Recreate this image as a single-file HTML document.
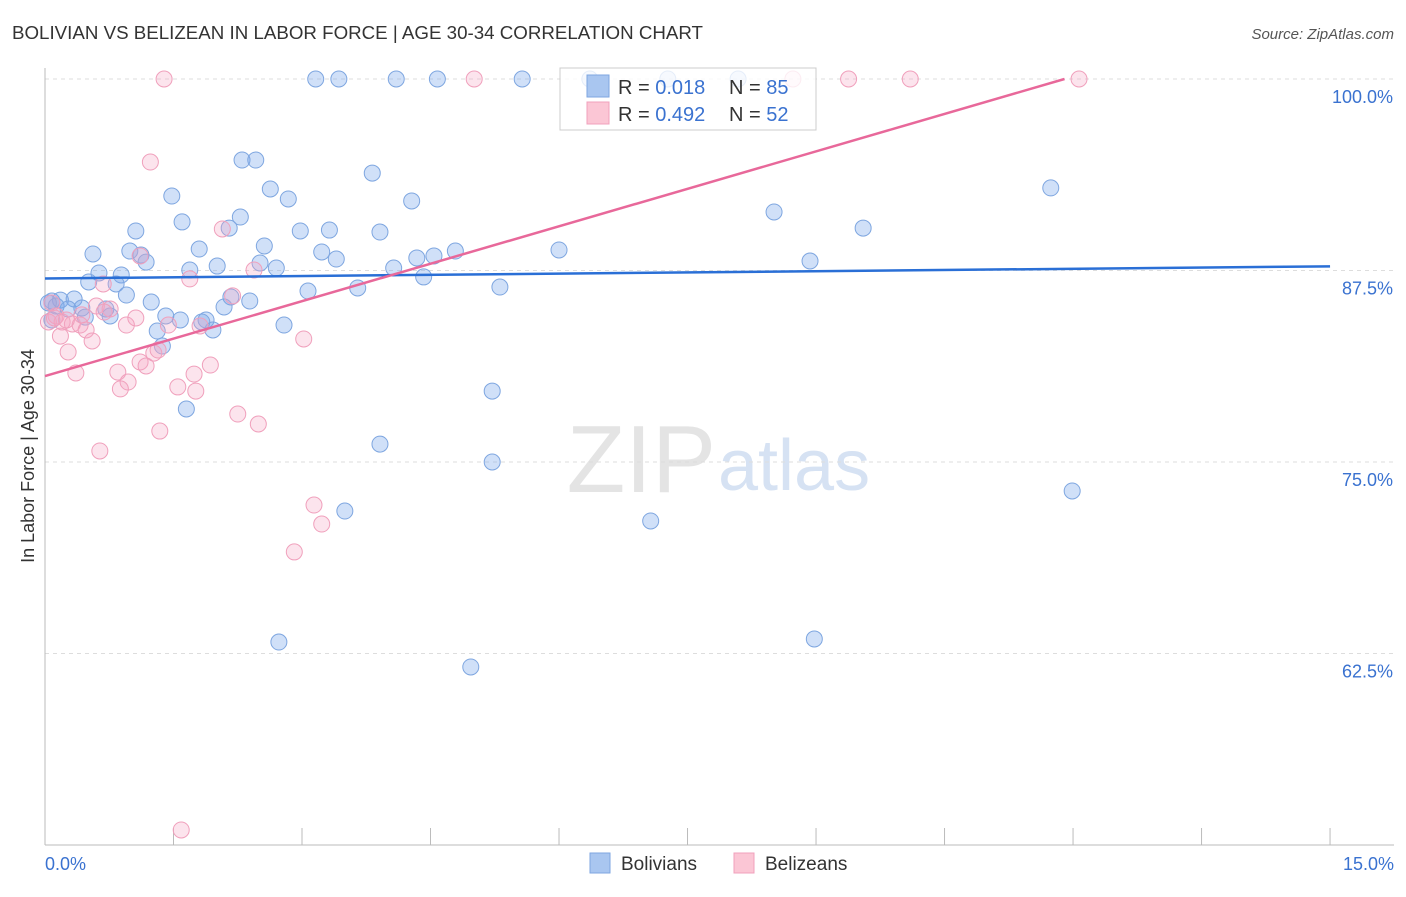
<!DOCTYPE html>
<html><head><meta charset="utf-8"><style>
body{margin:0;background:#fff;font-family:"Liberation Sans",sans-serif}
svg text{font-family:"Liberation Sans",sans-serif}
</style></head><body>
<svg id="chart" width="1406" height="892">
<text x="12" y="39" font-size="18" fill="#333" textLength="691" lengthAdjust="spacingAndGlyphs">BOLIVIAN VS BELIZEAN IN LABOR FORCE | AGE 30-34 CORRELATION CHART</text>
<text x="1394" y="39" font-size="15" fill="#555" font-style="italic" text-anchor="end">Source: ZipAtlas.com</text>
<text x="716" y="492" font-size="96" fill="#e4e4e4" text-anchor="end" font-family="Liberation Serif">ZIP</text>
<text x="718" y="490" font-size="72" fill="#d6e2f3">atlas</text>
<text transform="translate(34,456) rotate(-90)" font-size="18" fill="#333" text-anchor="middle">In Labor Force | Age 30-34</text>
<g id="grid"></g><g id="pts"></g><g id="lines"></g>
<g>
<rect x="560" y="68" width="256" height="62" fill="#fff" fill-opacity="0.8" stroke="#ccc"/>
<rect x="587" y="75" width="22" height="22" fill="#a9c6f0" stroke="#7ea6e0"/>
<rect x="587" y="102" width="22" height="22" fill="#fbc6d5" stroke="#f0a0bc"/>
<text x="618" y="94" font-size="20" fill="#333">R = <tspan fill="#3a72d0">0.018</tspan></text>
<text x="729" y="94" font-size="20" fill="#333">N = <tspan fill="#3a72d0">85</tspan></text>
<text x="618" y="121" font-size="20" fill="#333">R = <tspan fill="#3a72d0">0.492</tspan></text>
<text x="729" y="121" font-size="20" fill="#333">N = <tspan fill="#3a72d0">52</tspan></text>
</g>
<g>
<rect x="590" y="853" width="20" height="20" fill="#a9c6f0" stroke="#7ea6e0"/>
<text x="621" y="870" font-size="19" fill="#333">Bolivians</text>
<rect x="734" y="853" width="20" height="20" fill="#fbc6d5" stroke="#f0a0bc"/>
<text x="765" y="870" font-size="19" fill="#333">Belizeans</text>
</g>
</svg>
<script>
const yTicks=[100,87.5,75,62.5];
const yTickLabels=["100.0%","87.5%","75.0%","62.5%"];
const xEndLabels=["0.0%","15.0%"];
const bolX=[3.16,3.43,4.10,4.58,5.57,6.36,7.27,8.09,2.30,2.46,1.48,1.60,2.63,2.84,2.28,3.82,4.28,1.06,0.56,0.99,1.12,1.18,1.80,2.15,2.56,2.98,3.32,3.91,3.23,3.40,2.51,2.70,2.01,1.69,0.63,0.89,0.51,0.83,0.95,0.08,0.18,0.34,0.13,0.27,0.43,0.71,0.76,0.47,1.24,1.41,1.58,1.88,1.96,1.31,1.37,1.83,2.09,2.17,2.39,2.79,3.07,3.65,4.07,4.34,4.42,4.54,4.79,5.31,6.00,8.51,9.55,11.74,8.93,1.65,5.22,3.91,5.22,3.50,7.07,11.99,2.73,8.98,4.97,0.04,0.08];
const bolY=[100,100,100,100,100,100,100,100,94.71,94.71,92.36,90.67,92.82,92.17,90.99,93.86,92.04,90.08,88.58,88.77,88.51,88.05,88.90,90.27,89.10,90.08,90.14,90.01,88.71,88.25,87.99,87.66,87.79,87.53,87.34,87.21,86.75,86.62,85.90,85.51,85.57,85.64,85.18,84.99,85.05,84.99,84.53,84.46,85.44,84.53,84.27,84.27,83.62,83.55,82.57,84.14,85.12,85.77,85.51,83.94,86.16,86.36,87.66,88.32,87.08,88.45,88.77,86.42,88.84,91.32,90.27,92.89,88.12,78.46,79.63,76.17,75.00,71.80,71.15,73.11,63.25,63.45,61.62,85.38,84.27];
const belX=[1.39,5.01,8.73,9.38,10.10,12.07,1.23,2.07,1.11,2.44,1.69,0.68,2.19,0.08,0.13,0.04,0.20,0.32,0.41,0.48,0.55,0.27,0.18,0.60,0.76,0.69,0.95,1.06,1.44,1.81,3.02,1.27,1.32,1.11,1.18,1.93,0.36,0.85,0.97,0.88,1.55,1.74,1.76,2.25,2.49,1.34,0.64,3.14,3.23,2.91,1.59,0.11,0.25,0.43];
const belY=[100,100,100,100,100,100,94.58,90.21,88.45,87.53,86.95,86.62,85.84,85.38,84.53,84.14,84.14,84.01,83.94,83.62,82.90,82.18,83.22,85.18,84.99,84.79,83.94,84.40,83.94,83.88,83.03,82.11,82.31,81.53,81.27,81.33,80.81,80.87,80.22,79.77,79.90,80.74,79.63,78.13,77.48,77.02,75.72,72.19,70.95,69.13,50.98,84.40,84.27,84.60];
const bolLineX=[0,15], bolLineY=[86.98,87.77];
const belLineX=[0,11.9], belLineY=[80.61,100];
const X=v=>45+v*85.67, Y=v=>79+(100-v)*15.32;
const NS="http://www.w3.org/2000/svg";
function mk(tag,attrs,parent){const e=document.createElementNS(NS,tag);for(const k in attrs)e.setAttribute(k,attrs[k]);document.getElementById(parent).appendChild(e);return e;}
yTicks.forEach((t,i)=>{
 const l=mk('line',{x1:45,x2:1394,y1:Y(t),y2:Y(t),stroke:'#ddd','stroke-dasharray':'4,4'},'grid');
 
 
 const tx=mk('text',{x:1393,y:Y(t)+24,'font-size':18,fill:'#3a72d0','text-anchor':'end'},'grid');tx.textContent=yTickLabels[i];
 
 
});
const ax=mk('line',{x1:45,x2:45,y1:68,y2:845,stroke:'#bbb'},'grid');


const bx=mk('line',{x1:45,x2:1394,y1:845,y2:845,stroke:'#bbb'},'grid');


for(let i=0;i<=10;i++){const t=mk('line',{x1:X(i*1.5),x2:X(i*1.5),y1:828,y2:845,stroke:'#bbb'},'grid');
 
 }
[[0,'start'],[15,'end']].forEach((p,i)=>{const t=mk('text',{x:i?1394:45,y:870,'font-size':18,fill:'#3a72d0','text-anchor':p[1]},'grid');t.textContent=xEndLabels[i];
 
 });
bolX.forEach((v,i)=>{const c=mk('circle',{cx:X(v),cy:Y(bolY[i]),r:8,fill:'rgba(120,165,235,0.35)',stroke:'#7ea6e0','stroke-width':1},'pts');
 
 });
belX.forEach((v,i)=>{const c=mk('circle',{cx:X(v),cy:Y(belY[i]),r:8,fill:'rgba(245,165,195,0.3)',stroke:'#f0a0bc','stroke-width':1},'pts');
 
 });
const l1=mk('line',{x1:X(bolLineX[0]),y1:Y(bolLineY[0]),x2:X(bolLineX[1]),y2:Y(bolLineY[1]),stroke:'#2a6fd6','stroke-width':2.5},'lines');


const l2=mk('line',{x1:X(belLineX[0]),y1:Y(belLineY[0]),x2:X(belLineX[1]),y2:Y(belLineY[1]),stroke:'#e8689a','stroke-width':2.5},'lines');


</script>
</body></html>
